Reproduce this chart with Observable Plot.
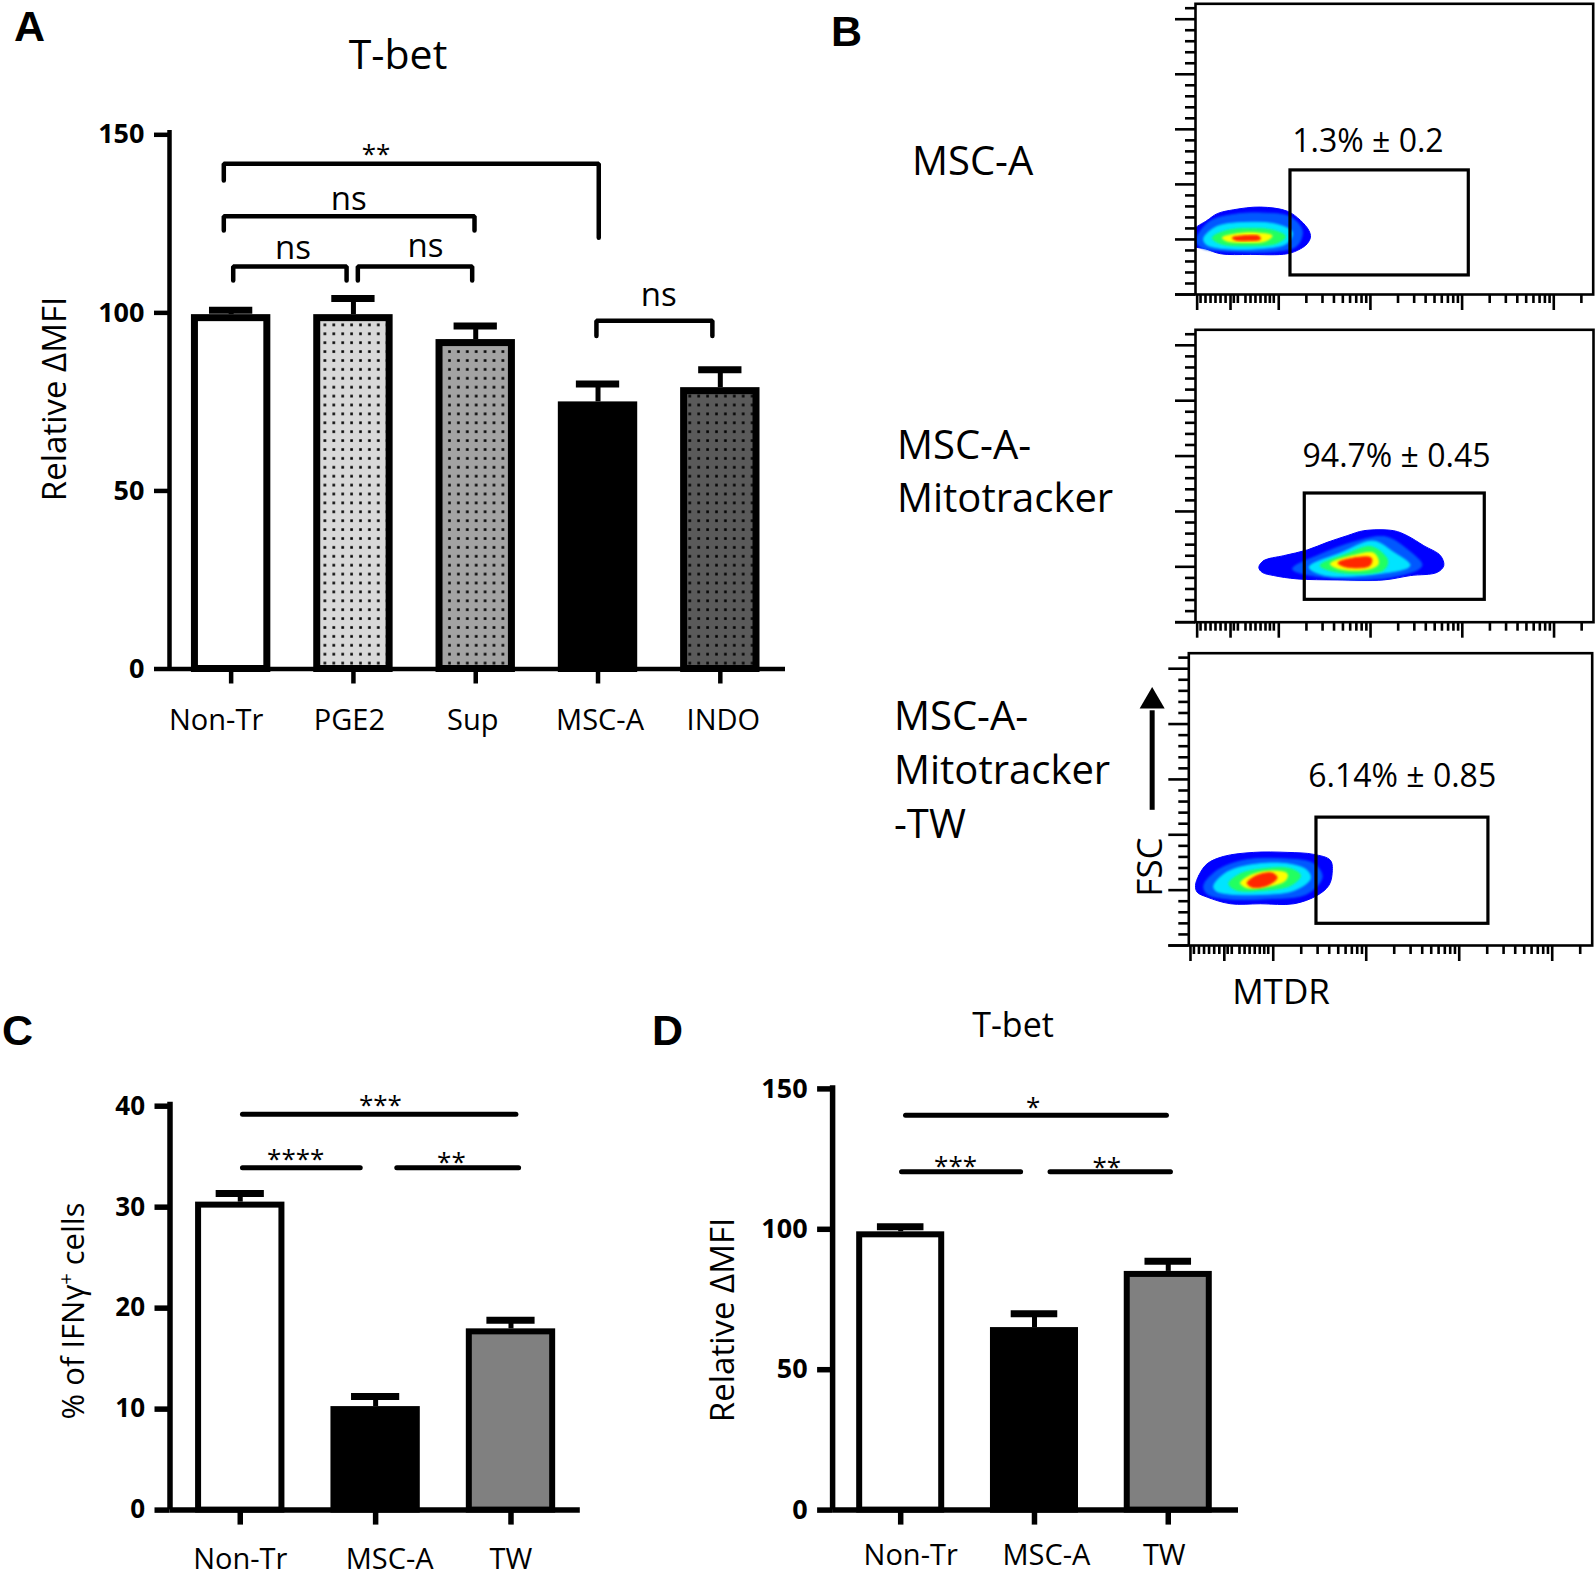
<!DOCTYPE html>
<html><head><meta charset="utf-8">
<script src="https://cdn.jsdelivr.net/npm/d3@7"></script>
<script src="https://cdn.jsdelivr.net/npm/@observablehq/plot@0.6"></script>
<style>
html,body{margin:0;padding:0;background:#fff;}
#fig{position:relative;width:1595px;height:1581px;overflow:hidden;background:#fff;font-family:"Open Sans",sans-serif;}
#overlay{position:absolute;left:0;top:0;pointer-events:none;}
</style></head><body><div id="fig"></div>
<script>
// ---------- Panel A data ----------
const catsA = ["Non-Tr", "PGE2", "Sup", "MSC-A", "INDO"];
const valsA = [99.5, 99.5, 92.5, 75, 79];
const errsA = [1.2, 4.5, 3.8, 5, 5];
const ticksA = [0, 50, 100, 150];
const bracketsA = [
  {id: 1, pts: [[0.94, 137.2], [0.94, 141.9], [4.006, 141.9], [4.006, 121.1]]},
  {id: 2, pts: [[0.94, 123.1], [0.94, 127.1], [2.99, 127.1], [2.99, 123.1]]},
  {id: 3, pts: [[1.017, 109.1], [1.017, 113.0], [1.944, 113.0], [1.944, 109.1]]},
  {id: 4, pts: [[2.036, 109.1], [2.036, 113.0], [2.971, 113.0], [2.971, 109.1]]},
  {id: 5, pts: [[3.987, 93.5], [3.987, 97.8], [4.935, 97.8], [4.935, 93.5]]}
];
const nsA = [
  {t: "ns", x: 1.962, y: 128.8}, {t: "ns", x: 1.506, y: 115.2},
  {t: "ns", x: 2.590, y: 115.8}, {t: "ns", x: 4.496, y: 101.9}
];
const starsA = [{t: "**", x: 2.185, y: 146.5}];

// ---------- Panel C data ----------
const catsC = ["Non-Tr", "MSC-A", "TW"];
const valsC = [30.5, 10.25, 17.95];
const errsC = [0.85, 1.0, 0.85];
const ticksC = [0, 10, 20, 30, 40];
const sigC = [{y: 39.2, x1: 1.02, x2: 3.04}, {y: 33.9, x1: 1.02, x2: 1.89}, {y: 33.9, x1: 2.16, x2: 3.06}];
const starsC = [{t: "***", x: 2.035, y: 40.77}, {t: "****", x: 1.41, y: 35.4}, {t: "**", x: 2.56, y: 35.1}];

// ---------- Panel D data ----------
const catsD = ["Non-Tr", "MSC-A", "TW"];
const valsD = [99.1, 65, 85];
const errsD = [1.8, 4.9, 3.6];
const ticksD = [0, 50, 100, 150];
const sigD = [{y: 140.6, x1: 1.04, x2: 2.99}, {y: 120.5, x1: 1.01, x2: 1.90}, {y: 120.5, x1: 2.12, x2: 3.02}];
const starsD = [{t: "*", x: 1.99, y: 145.7}, {t: "***", x: 1.41, y: 124.7}, {t: "**", x: 2.54, y: 124.3}];

// ---------- Panel B (flow plots) data: x = log10 MTDR, y = FSC ----------
const yMajorB = [0, 50, 100, 150, 200, 250];
const yMinorB = [10,20,30,40,60,70,80,90,110,120,130,140,160,170,180,190,210,220,230,240,260];
const xMajorB = [1.11, 1.474, 2, 3, 4, 5];
const xMinorLowB = [1.147,1.201,1.256,1.310,1.365,1.420,1.510,1.554,1.637,1.692,1.746,1.801,1.855,1.903,1.946];
const blob1 = [
  [[1.07,58.2],[1.220,67.3],[1.329,73.4],[1.510,77.0],[1.801,79.4],[2.092,75.7],[2.237,67.3],[2.328,58.2],[2.346,52.1],[2.310,46.1],[2.237,41.5],[2.092,37.0],[1.692,36.4],[1.365,37.0],[1.201,41.5],[1.07,44.5]],
  [[1.10,49.1],[1.237,65.8],[1.510,72.7],[1.837,73.9],[2.128,70.3],[2.255,58.2],[2.201,44.5],[1.983,39.4],[1.401,39.4],[1.147,43.0]],
  [[1.183,51.5],[1.328,61.8],[1.656,65.5],[1.983,63.6],[2.146,56.7],[2.092,46.7],[1.765,41.5],[1.328,42.4],[1.201,46.1]],
  [[1.274,51.5],[1.437,58.2],[1.692,60.0],[1.946,58.2],[2.074,52.7],[1.983,46.7],[1.656,44.2],[1.365,46.1]],
  [[1.383,51.5],[1.547,55.2],[1.765,55.8],[1.928,53.3],[1.856,48.5],[1.619,47.3],[1.437,48.5]],
  [[1.492,51.5],[1.619,53.3],[1.783,53.0],[1.801,50.3],[1.656,48.8],[1.528,49.4]]
];
const blob2 = [
  [[1.782,49.5],[1.836,55.6],[2.054,60.1],[2.309,65.2],[2.527,72.1],[2.745,78.1],[2.926,82.6],[3.253,82.6],[3.399,78.1],[3.580,69.1],[3.762,60.1],[3.798,51.1],[3.726,45.0],[3.435,42.1],[3.144,38.2],[2.636,38.2],[2.200,39.1],[1.945,42.1],[1.819,45.0]],
  [[2.150,48.1],[2.450,61.1],[2.830,72.7],[3.160,77.1],[3.400,65.6],[3.560,51.1],[3.250,41.1],[2.540,40.1]],
  [[2.330,49.6],[2.680,62.6],[3.030,73.2],[3.250,63.1],[3.430,51.1],[3.030,43.2],[2.490,42.6]],
  [[2.451,51.1],[2.725,61.1],[3.010,68.1],[3.185,56.1],[3.140,47.1],[2.652,45.0]],
  [[2.562,52.6],[2.808,60.1],[3.039,62.1],[3.084,52.6],[2.983,48.0],[2.671,48.0]],
  [[2.644,53.5],[2.836,58.2],[3.010,57.8],[2.991,51.1],[2.745,49.7]]
];
const blob3 = [
  [[1.164,54.2],[1.200,63.3],[1.289,73.8],[1.468,80.5],[1.791,84.1],[2.149,84.1],[2.436,82.3],[2.615,76.9],[2.633,64.8],[2.597,54.2],[2.472,45.2],[2.221,37.7],[1.863,37.7],[1.540,37.7],[1.289,43.7],[1.182,48.2]],
  [[1.253,54.2],[1.397,67.8],[1.683,76.9],[2.078,78.4],[2.436,73.8],[2.526,61.8],[2.364,46.7],[1.934,42.2],[1.504,42.2],[1.289,46.7]],
  [[1.361,54.2],[1.504,66.3],[1.791,73.2],[2.149,73.8],[2.364,67.8],[2.400,60.3],[2.221,49.7],[1.863,46.1],[1.504,46.7],[1.379,49.7]],
  [[1.522,55.8],[1.648,64.8],[1.898,69.3],[2.185,69.3],[2.293,63.3],[2.185,54.2],[1.863,49.7],[1.594,50.3]],
  [[1.648,56.4],[1.755,63.3],[1.970,67.2],[2.149,64.8],[2.131,58.8],[1.934,53.3],[1.719,52.1]],
  [[1.719,56.4],[1.826,63.3],[1.988,65.4],[2.042,61.2],[1.934,54.2],[1.773,52.7]]
];
const gates = [
  {x1: 2.128, x2: 4.073, y1: 17.3, y2: 112.7},
  {x1: 2.283, x2: 4.245, y1: 20.2, y2: 116.2},
  {x1: 2.465, x2: 4.314, y1: 19.6, y2: 115.5}
];
const gateNotes = [
  {t: "1.3% ± 0.2", x: 2.973, y: 129.4},
  {t: "94.7% ± 0.45", x: 3.283, y: 140.5},
  {t: "6.14% ± 0.85", x: 3.387, y: 143.1}
];
const arrowFSC = {x: 0.698, y1: 122.1, y2: 212, tip: 220.5};

// ---------- styles / layout ----------
const jet = ["#0000ff", "#0058ff", "#00e4ff", "#20ff60", "#ffff00", "#ff2800"];
const fillsA = ["#ffffff", "url(#dotL)", "url(#dotM)", "#000000", "url(#dotD)"];
const fillsCD = ["#ffffff", "#000000", "#808080"];
const labelDxA = [-15, -4, -3, 2, 3];
const labelDxC = [0, 14, 0];
const labelDxD = [10, 12, -4];
const baseStyle = {fontFamily: "'Open Sans', sans-serif", fontSize: "29px", color: "#000", background: "transparent", overflow: "visible"};

const fig = document.getElementById("fig");
function place(node, left, top) {
  node.style.position = "absolute";
  node.style.left = left + "px";
  node.style.top = top + "px";
  fig.appendChild(node);
}
const noTxt = () => "";

// ---------- bar panel builder ----------
function barPanel(cfg) {
  const data = cfg.cats.map((c, k) => ({i: k + 1, c, v: cfg.vals[k], e: cfg.errs[k]}));
  const [x0, x1] = cfg.xDomain;
  const hs = cfg.barStroke / 2;
  const marks = [];
  data.forEach((d, k) => {
    marks.push(Plot.rect([d], {
      x1: q => q.i - cfg.barHW, x2: q => q.i + cfg.barHW, y1: () => 0, y2: "v",
      fill: cfg.fills[k], stroke: "#000", strokeWidth: cfg.barStroke,
      insetTop: hs, insetLeft: hs, insetRight: hs
    }));
  });
  marks.push(Plot.ruleX(data, {x: "i", y1: "v", y2: q => q.v + q.e, strokeWidth: 5}));
  marks.push(Plot.ruleY(data, {y: q => q.v + q.e, x1: q => q.i - cfg.capHW, x2: q => q.i + cfg.capHW, strokeWidth: 7, strokeLinecap: "butt"}));
  if (cfg.brackets) {
    const pts = cfg.brackets.flatMap(b => b.pts.map(p => ({id: b.id, x: p[0], y: p[1]})));
    marks.push(Plot.line(pts, {x: "x", y: "y", z: "id", strokeWidth: 4.5, strokeLinejoin: "miter", strokeLinecap: "round", curve: "linear"}));
  }
  if (cfg.sig) marks.push(Plot.ruleY(cfg.sig, {y: "y", x1: "x1", x2: "x2", strokeWidth: 5, strokeLinecap: "round"}));
  if (cfg.ns) marks.push(Plot.text(cfg.ns, {x: "x", y: "y", text: "t", fontSize: 33, lineAnchor: "bottom"}));
  if (cfg.stars) marks.push(Plot.text(cfg.stars, {x: "x", y: "y", text: "t", fontSize: 26, lineAnchor: "middle", dy: 7}));
  marks.push(Plot.ruleY([0], {x1: () => x0, x2: () => x1, strokeWidth: cfg.axisStroke}));
  marks.push(Plot.ruleX([x0], {y1: () => 0, y2: () => cfg.axisTop, strokeWidth: cfg.axisStroke}));
  marks.push(Plot.axisY({ticks: cfg.yTicks, tickSize: 15, tickPadding: 10, fontWeight: "bold", fontSize: cfg.tickFont, strokeWidth: cfg.axisStroke, label: null, tickFormat: d => String(d)}));
  marks.push(Plot.axisX({ticks: cfg.cats.map((c, k) => k + 1), tickFormat: noTxt, tickSize: 15, strokeWidth: cfg.axisStroke, label: null}));
  cfg.cats.forEach((c, k) => {
    marks.push(Plot.text([c], {x: () => k + 1, y: () => 0, text: d => d, lineAnchor: "top", dy: 15 + cfg.xPad, dx: cfg.labelDx[k], fontSize: 29}));
  });
  return Plot.plot({
    width: cfg.width, height: cfg.height,
    marginLeft: cfg.m[0], marginRight: cfg.m[1], marginTop: cfg.m[2], marginBottom: cfg.m[3],
    x: {domain: cfg.xDomain}, y: {domain: cfg.yDomain},
    style: baseStyle,
    marks
  });
}

// Panel A
const svgA = barPanel({
  cats: catsA, vals: valsA, errs: errsA, fills: fillsA, yTicks: ticksA, yDomain: [0, 150],
  xDomain: [0.496, 5.533], width: 800, height: 760, m: [169, 15, 134.3, 91.5],
  barHW: 0.3246, capHW: 0.177, barStroke: 7, axisStroke: 4.5, axisTop: 151.2, tickFont: 27, xPad: 25, labelDx: labelDxA,
  brackets: bracketsA, ns: nsA, stars: starsA
});
d3.select(svgA).insert("defs", ":first-child").html(
  [["dotL", "#d9d9d9"], ["dotM", "#a3a3a3"], ["dotD", "#5a5a5a"]].map(([id, c]) =>
    `<pattern id="${id}" width="8.9" height="8.9" patternUnits="userSpaceOnUse"><rect width="8.9" height="8.9" fill="${c}"/><rect x="3.2" y="3.2" width="2.6" height="2.6" fill="#000"/></pattern>`).join("")
);
place(svgA, 0, 0);

// Panel C
const svgC = barPanel({
  cats: catsC, vals: valsC, errs: errsC, fills: fillsCD, yTicks: ticksC, yDomain: [0, 40],
  xDomain: [0.481, 3.512], width: 600, height: 521, m: [169.5, 20.2, 45.7, 71.4],
  barHW: 0.33, capHW: 0.178, barStroke: 6, axisStroke: 5.5, axisTop: 40.4, tickFont: 26, xPad: 23.7, labelDx: labelDxC,
  sig: sigC, stars: starsC
});
place(svgC, 0, 1060);

// Panel D
const svgD = barPanel({
  cats: catsD, vals: valsD, errs: errsD, fills: fillsCD, yTicks: ticksD, yDomain: [0, 150],
  xDomain: [0.491, 3.525], width: 600, height: 521, m: [182.1, 12, 28.4, 71.4],
  barHW: 0.329, capHW: 0.174, barStroke: 6, axisStroke: 5.5, axisTop: 151.1, tickFont: 27, xPad: 19.7, labelDx: labelDxD,
  sig: sigD, stars: starsD
});
place(svgD, 650, 1060);

// ---------- flow plots ----------
const xDomB = [1.092, 5.43];
const yDomB = [0, 264];
const xMinorB = xMinorLowB.concat(
  [2, 3, 4].flatMap(dec => d3.range(2, 10).map(k => dec + Math.log10(k))),
  [5 + Math.log10(2)]
);
function flow(cfg, idx) {
  const [fl, fr, ft, fb] = cfg.frame;
  const mL = fl - cfg.left, mR = cfg.left + cfg.width - fr, mT = ft - cfg.top, mB = cfg.top + cfg.height - fb;
  const decPx = (fr - fl) / (xDomB[1] - xDomB[0]);
  const xExt = xDomB[0] - 20 / decPx;
  const marks = [
    ...cfg.levels.map((lv, k) => Plot.line(lv, {x: d => d[0], y: d => d[1], curve: "catmull-rom-closed", fill: jet[k], stroke: jet[k], strokeWidth: 1, clip: true})),
    Plot.rect([cfg.gate], {x1: "x1", x2: "x2", y1: "y1", y2: "y2", fill: "none", stroke: "#000", strokeWidth: 3.2}),
    Plot.text([cfg.note], {x: "x", y: "y", text: "t", fontSize: 32, lineAnchor: "bottom"}),
    Plot.frame({strokeWidth: 2.6}),
    Plot.ruleY([0], {x1: () => xExt, x2: () => xDomB[0], strokeWidth: 2.6}),
    Plot.axisY({ticks: yMajorB, tickSize: 20, tickFormat: noTxt, strokeWidth: 2.6, label: null}),
    Plot.axisY({ticks: yMinorB, tickSize: 10, tickFormat: noTxt, strokeWidth: 2.6, label: null}),
    Plot.axisX({ticks: xMajorB, tickSize: 16, tickFormat: noTxt, strokeWidth: 2.6, label: null}),
    Plot.axisX({ticks: xMinorB, tickSize: 9, tickFormat: noTxt, strokeWidth: 2.6, label: null}),
    ...(cfg.extra || [])
  ];
  const p = Plot.plot({
    width: cfg.width, height: cfg.height,
    marginLeft: mL, marginRight: mR, marginTop: mT, marginBottom: mB,
    x: {domain: xDomB}, y: {domain: yDomB},
    style: baseStyle,
    marks
  });
  const fid = "soft" + idx;
  d3.select(p).insert("defs", ":first-child").html(`<filter id="${fid}" x="-20%" y="-20%" width="140%" height="140%"><feGaussianBlur stdDeviation="1"/></filter>`);
  d3.select(p).selectAll('g[aria-label="line"]').filter((d, i) => i > 0).attr("filter", `url(#${fid})`);
  place(p, cfg.left, cfg.top);
}
flow({left: 1150, top: 0, width: 445, height: 320, frame: [1195, 1592.7, 3.3, 294], levels: blob1, gate: gates[0], note: gateNotes[0]}, 1);
flow({left: 1150, top: 320, width: 445, height: 320, frame: [1195, 1593, 329.3, 621.7], levels: blob2, gate: gates[1], note: gateNotes[1]}, 2);
flow({left: 1100, top: 630, width: 495, height: 345, frame: [1188.3, 1591.7, 652.7, 945], levels: blob3, gate: gates[2], note: gateNotes[2],
  extra: [
    Plot.ruleX([arrowFSC], {x: "x", y1: "y1", y2: "y2", strokeWidth: 5, strokeLinecap: "butt"}),
    Plot.dot([arrowFSC], {x: "x", y: "tip", symbol: "triangle", r: 9.3, fill: "#000", stroke: "none"})
  ]}, 3);

// ---------- overlay text ----------
const ov = d3.select(fig).append("svg").attr("id", "overlay").attr("width", 1595).attr("height", 1581)
  .style("font-family", "'Open Sans', sans-serif");
function label(s, x, y, size, opt = {}) {
  const t = ov.append("text")
    .attr("font-size", size).attr("font-weight", opt.weight || "normal")
    .attr("text-anchor", opt.anchor || "start")
    .attr("transform", `translate(${x},${y})` + (opt.rotate ? ` rotate(${opt.rotate})` : ""))
    .text(s);
  if (opt.family) t.attr("font-family", opt.family);
  return t;
}
const letterFont = "'Liberation Sans', Arial, sans-serif";
label("A", 14, 41, 43, {weight: "bold", family: letterFont});
label("B", 831, 46, 43, {weight: "bold", family: letterFont});
label("C", 2, 1045, 43, {weight: "bold", family: letterFont});
label("D", 652, 1045, 43, {weight: "bold", family: letterFont});
label("T-bet", 398, 69, 41, {anchor: "middle"});
label("Relative ΔMFI", 66, 399, 33, {anchor: "middle", rotate: -90});
label("MSC-A", 912, 175, 40);
label("MSC-A-", 897, 459, 40);
label("Mitotracker", 897, 512, 40);
label("MSC-A-", 894, 730, 40);
label("Mitotracker", 894, 784, 40);
label("-TW", 894, 838, 40);
label("FSC", 1162, 867, 35, {anchor: "middle", rotate: -90});
label("MTDR", 1281, 1004, 35, {anchor: "middle"});
label("T-bet", 1013, 1037, 34, {anchor: "middle"});
label("Relative ΔMFI", 734, 1320, 33, {anchor: "middle", rotate: -90});
const yl = ov.append("text").attr("font-size", 31).attr("text-anchor", "middle")
  .attr("transform", "translate(84,1311) rotate(-90)");
yl.append("tspan").text("% of IFNγ");
yl.append("tspan").attr("font-size", 20).attr("dy", -11).text("+");
yl.append("tspan").attr("dy", 11).text(" cells");
</script>
</body></html>
